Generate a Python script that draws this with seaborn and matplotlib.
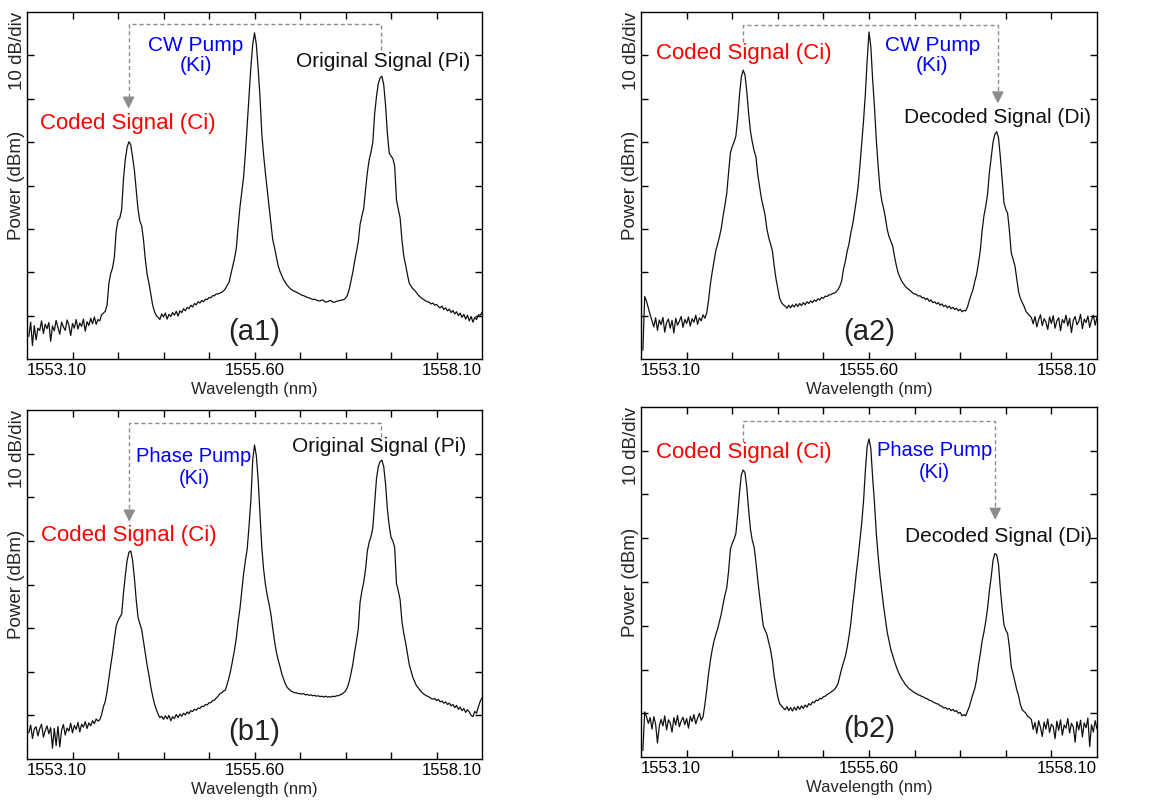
"""
Four OSA spectra (a1, a2, b1, b2): coded / pump / original-or-decoded signals.
"""

import numpy as np
import matplotlib
matplotlib.use("Agg")
import matplotlib.pyplot as plt
import matplotlib.transforms as mtransforms
import seaborn as sns


# ── OSA sampling grid (nm) and traces (dBm) ──
WAVELENGTH = np.round(1552.50 + 0.025 * np.arange(250), 3)

TRACE_A1 = [
    -74.8, -71.5, -76.9, -72.3, -75.6, -72.9, -73.4, -71.2, -74.1, -72.0,
    -73.0, -71.6, -75.9, -72.4, -73.5, -71.1, -72.7, -74.3, -71.5, -72.6,
    -73.4, -71.0, -72.2, -74.6, -71.8, -72.9, -70.9, -73.1, -71.7, -72.5,
    -70.8, -73.6, -71.4, -72.3, -70.6, -71.9, -70.3, -72.0, -70.9, -71.2,
    -69.8, -69.4, -69.0, -67.5, -62.5, -60.3, -59.0, -56.5, -50.5, -48.0,
    -47.5, -45.5, -38.5, -34.0, -31.2, -29.9, -30.6, -33.4, -36.5, -41.0,
    -45.5, -48.2, -49.3, -52.5, -57.0, -60.5, -62.5, -65.0, -67.5, -69.0,
    -70.0, -70.4, -70.9, -69.6, -70.3, -69.4, -70.8, -69.7, -70.2, -69.3,
    -69.9, -69.0, -70.1, -68.9, -69.3, -68.4, -68.9, -68.1, -68.4, -67.6,
    -68.0, -67.2, -67.5, -66.8, -67.1, -66.5, -66.8, -66.2, -66.3, -65.8,
    -65.9, -65.4, -65.4, -65.0, -65.0, -64.8, -64.6, -64.3, -63.8, -63.0,
    -62.3, -60.5, -58.7, -56.8, -54.5, -49.5, -45.0, -41.5, -38.0, -32.5,
    -26.0, -19.5, -12.7, -7.5, -4.8, -7.5, -13.0, -19.5, -28.0, -33.0,
    -37.2, -41.0, -44.9, -48.8, -52.5, -54.3, -56.5, -58.5, -59.8, -60.8,
    -61.7, -62.4, -63.0, -63.5, -63.9, -64.2, -64.4, -64.6, -64.8, -65.0,
    -65.3, -65.4, -65.6, -65.8, -65.9, -66.1, -66.3, -66.2, -66.4, -66.6,
    -66.6, -66.4, -66.5, -66.9, -66.8, -66.6, -66.5, -66.9, -66.9, -66.7,
    -66.6, -66.5, -66.4, -66.3, -66.0, -65.3, -64.0, -62.0, -60.0, -57.5,
    -55.3, -53.0, -49.0, -47.0, -45.3, -41.0, -37.0, -34.1, -32.3, -30.0,
    -23.5, -19.5, -16.5, -15.2, -14.8, -16.8, -21.5, -28.0, -32.5, -33.2,
    -33.8, -35.5, -43.3, -45.5, -47.5, -52.5, -56.3, -58.3, -60.5, -62.5,
    -63.2, -63.8, -64.2, -64.7, -65.3, -65.7, -66.0, -66.3, -66.6, -66.8,
    -66.9, -67.3, -67.1, -67.6, -67.4, -67.9, -68.2, -67.8, -68.6, -68.2,
    -68.9, -68.5, -69.3, -68.8, -69.6, -69.1, -70.0, -69.4, -70.4, -69.7,
    -70.8, -69.9, -71.2, -70.2, -71.5, -70.4, -70.9, -69.8, -69.9, -69.3,
]

TRACE_A2 = [
    -78.0, -65.6, -66.7, -68.3, -69.8, -71.2, -72.6, -70.5, -73.4, -71.0,
    -72.1, -70.4, -73.8, -71.6, -70.8, -72.9, -71.1, -74.0, -70.6, -72.2,
    -71.3, -70.2, -72.7, -70.9, -71.8, -70.3, -72.4, -70.7, -71.5, -69.9,
    -72.0, -70.5, -71.2, -69.8, -70.6, -69.4, -66.5, -62.8, -60.0, -57.5,
    -55.0, -53.5, -51.8, -49.8, -47.0, -44.5, -41.8, -37.0, -32.5, -31.0,
    -30.0, -28.6, -24.5, -19.0, -15.0, -13.4, -14.5, -18.5, -23.4, -27.5,
    -30.0, -32.0, -33.4, -37.5, -40.3, -43.0, -44.9, -46.8, -50.0, -52.0,
    -53.5, -55.0, -58.5, -61.5, -63.7, -66.0, -67.0, -67.5, -67.8, -68.3,
    -67.6, -68.2, -67.5, -68.0, -67.3, -67.9, -67.2, -67.7, -67.0, -67.5,
    -66.8, -67.2, -66.6, -67.0, -66.4, -66.7, -66.1, -66.4, -65.8, -66.0,
    -65.5, -65.6, -65.2, -65.2, -64.9, -64.8, -64.5, -64.0, -63.2, -62.0,
    -59.3, -57.5, -55.2, -53.5, -51.0, -49.0, -46.4, -43.5, -40.3, -35.5,
    -30.3, -25.0, -18.8, -11.0, -4.6, -8.0, -15.7, -22.0, -29.5, -35.5,
    -40.7, -43.5, -45.3, -47.5, -50.2, -51.8, -52.9, -54.0, -56.4, -58.5,
    -60.2, -61.2, -62.1, -62.7, -63.3, -63.7, -64.0, -64.4, -64.8, -65.0,
    -65.1, -65.5, -65.4, -65.9, -65.8, -66.3, -66.0, -66.7, -66.4, -67.0,
    -66.8, -67.3, -67.0, -67.6, -67.3, -67.9, -67.6, -68.2, -67.8, -68.4,
    -68.1, -68.6, -68.3, -68.9, -68.5, -69.1, -68.8, -68.9, -68.0, -66.5,
    -65.2, -64.0, -62.1, -60.5, -57.9, -55.0, -50.5, -47.0, -44.8, -42.0,
    -37.0, -33.5, -30.0, -28.2, -27.6, -29.0, -33.4, -38.5, -44.0, -45.5,
    -46.4, -50.5, -55.6, -57.0, -58.5, -61.5, -64.5, -66.0, -67.0, -67.8,
    -69.0, -69.5, -70.0, -70.4, -71.9, -70.2, -72.6, -71.0, -69.8, -72.3,
    -70.7, -71.5, -73.2, -70.3, -71.8, -70.0, -72.9, -71.2, -70.5, -73.5,
    -70.9, -71.7, -69.9, -72.4, -70.6, -73.9, -71.1, -70.2, -72.1, -71.4,
    -69.7, -73.0, -70.8, -71.6, -70.1, -72.7, -71.0, -69.9, -72.2, -70.4,
]

TRACE_B1 = [
    -74.0, -72.2, -75.3, -73.1, -72.6, -74.7, -73.0, -72.0, -75.0, -73.5,
    -72.4, -74.2, -72.8, -77.5, -73.0, -76.9, -72.5, -77.2, -73.4, -72.1,
    -74.5, -72.9, -73.6, -71.8, -74.0, -72.3, -73.2, -71.6, -73.8, -72.0,
    -72.7, -71.4, -73.0, -71.7, -72.4, -71.2, -71.9, -70.8, -71.3, -71.0,
    -69.8, -68.0, -66.8, -64.5, -61.5, -58.5, -55.8, -52.5, -49.5, -48.3,
    -47.5, -46.8, -42.0, -38.0, -34.5, -32.6, -32.3, -34.4, -38.5, -43.5,
    -47.5, -49.0, -50.3, -53.0, -55.8, -58.5, -60.8, -63.4, -65.5, -67.3,
    -68.6, -69.7, -70.5, -70.2, -70.9, -70.1, -70.8, -70.0, -71.2, -70.3,
    -70.7, -69.8, -70.5, -69.7, -70.2, -69.5, -69.9, -69.2, -69.6, -68.9,
    -69.1, -68.6, -68.8, -68.3, -68.4, -67.9, -68.0, -67.5, -67.6, -67.1,
    -67.1, -66.6, -66.5, -66.0, -65.6, -65.0, -64.8, -64.4, -64.2, -62.8,
    -61.3, -59.5, -57.3, -55.0, -52.3, -48.5, -45.5, -41.5, -37.5, -34.5,
    -31.8, -26.5, -20.7, -11.5, -8.0, -10.5, -16.0, -23.9, -31.5, -36.5,
    -40.0, -42.5, -44.5, -46.8, -50.0, -53.0, -55.5, -57.3, -58.8, -60.5,
    -61.7, -62.8, -63.6, -64.0, -64.4, -64.6, -64.8, -64.8, -65.0, -65.0,
    -65.1, -65.0, -65.3, -65.2, -65.4, -65.3, -65.5, -65.4, -65.6, -65.5,
    -65.7, -65.6, -65.8, -65.6, -65.8, -65.7, -65.8, -65.6, -65.7, -65.5,
    -65.5, -65.3, -65.1, -64.8, -64.4, -63.6, -62.3, -60.4, -58.3, -55.5,
    -53.0, -50.2, -44.0, -41.5, -39.5, -36.5, -32.3, -30.3, -29.0, -27.0,
    -21.5, -15.8, -13.0, -11.8, -11.5, -13.0, -17.0, -22.7, -26.5, -29.2,
    -30.0, -31.5, -39.8, -41.5, -43.5, -48.5, -51.2, -53.3, -55.8, -58.3,
    -59.8, -61.3, -62.3, -63.2, -63.7, -64.3, -64.7, -65.1, -65.4, -65.6,
    -65.8, -66.1, -66.3, -66.1, -66.6, -66.3, -66.9, -66.7, -67.2, -66.9,
    -67.5, -67.2, -67.8, -67.5, -68.2, -67.7, -68.6, -68.1, -68.9, -68.4,
    -69.3, -68.7, -69.2, -70.0, -70.3, -69.1, -69.5, -68.0, -66.8, -66.0,
]

TRACE_B2 = [
    -78.5, -69.7, -70.8, -72.3, -71.0, -73.6, -70.8, -72.5, -76.8, -73.0,
    -71.4, -72.9, -70.6, -73.8, -71.5, -72.2, -74.3, -71.0, -72.7, -70.5,
    -73.1, -71.8, -70.9, -72.6, -71.2, -73.4, -70.7, -71.9, -70.3, -72.4,
    -71.1, -70.0, -71.6, -70.8, -68.0, -64.7, -61.0, -58.0, -55.5, -53.5,
    -52.0, -50.7, -49.0, -47.3, -45.0, -43.0, -41.3, -37.5, -32.5, -31.2,
    -30.2, -28.9, -24.5, -19.5, -15.5, -14.4, -15.0, -18.5, -23.5, -28.0,
    -30.5, -32.0, -35.5, -39.5, -43.2, -46.5, -50.0, -51.0, -52.0, -53.8,
    -55.5, -58.0, -61.5, -64.0, -66.3, -67.8, -68.3, -68.8, -69.2, -68.5,
    -69.4, -68.7, -69.5, -68.6, -69.3, -68.4, -69.1, -68.3, -68.9, -68.1,
    -68.6, -67.8, -68.1, -67.4, -67.6, -67.0, -67.1, -66.6, -66.7, -66.2,
    -66.1, -65.7, -65.5, -65.2, -64.9, -64.6, -64.0, -63.2, -61.5, -59.8,
    -58.4, -57.0, -55.0, -52.5, -49.5, -45.5, -42.0, -38.0, -34.5, -30.5,
    -26.5, -21.5, -14.5, -9.0, -7.3, -9.5, -16.2, -22.0, -28.9, -34.0,
    -38.5, -42.0, -45.6, -48.5, -51.5, -53.5, -55.5, -56.8, -58.2, -59.4,
    -60.5, -61.4, -62.2, -62.8, -63.5, -63.9, -64.4, -64.7, -65.0, -65.3,
    -65.5, -65.8, -65.9, -66.2, -66.3, -66.6, -66.7, -67.0, -67.1, -67.4,
    -67.6, -67.8, -67.9, -68.3, -68.4, -68.8, -68.7, -69.1, -68.9, -69.4,
    -69.1, -69.6, -69.4, -70.0, -69.8, -70.6, -70.3, -70.6, -69.5, -68.5,
    -67.0, -65.6, -64.3, -62.3, -59.0, -56.5, -53.5, -51.5, -49.0, -46.0,
    -42.0, -38.8, -35.0, -33.5, -33.8, -36.0, -41.5, -46.0, -49.8, -51.0,
    -51.8, -55.0, -59.4, -61.0, -62.8, -64.6, -66.0, -68.0, -69.2, -69.6,
    -70.0, -70.7, -71.0, -71.4, -73.7, -72.1, -74.6, -71.7, -73.2, -75.3,
    -72.0, -73.6, -71.3, -74.4, -72.5, -73.0, -75.8, -71.8, -73.9, -71.5,
    -75.0, -72.7, -73.4, -71.2, -74.5, -72.3, -73.1, -76.6, -71.9, -73.8,
    -71.6, -75.4, -72.2, -73.3, -71.1, -77.6, -72.6, -74.3, -71.7, -73.6,
]

X_TICKS = [1553.10, 1553.725, 1554.35, 1554.975, 1555.60,
           1556.225, 1556.85, 1557.475, 1558.10]
X_TICK_LABELS = ["1553.10", "", "", "", "1555.60", "", "", "", "1558.10"]
Y_TICKS = [-70, -60, -50, -40, -30, -20, -10]

PANEL_TAGS = ["(a1)", "(a2)", "(b1)", "(b2)"]

RED = "#ff0000"
BLUE = "#0000ff"
INK = "#111111"
ARROW = "#8c8c8c"

# axes rectangles in figure fractions (left, bottom, width, height)
RECTS = [
    [0.0233, 0.5518, 0.3926, 0.4332],
    [0.5531, 0.5518, 0.3934, 0.4332],
    [0.0233, 0.0524, 0.3926, 0.4357],
    [0.5531, 0.0549, 0.3934, 0.4370],
]

# per panel: labels (text, x, y, colour, size, linespacing)
LABELS = [
    [("Coded Signal (Ci)", 1553.86, -25.7, RED, 16, 1.0),
     ("CW Pump\n(Ki)", 1554.79, -10.0, BLUE, 15, 1.1),
     ("Original Signal (Pi)", 1557.37, -11.5, INK, 15, 1.0)],
    [("Coded Signal (Ci)", 1553.88, -9.6, RED, 16, 1.0),
     ("CW Pump\n(Ki)", 1556.47, -10.0, BLUE, 15, 1.1),
     ("Decoded Signal (Di)", 1557.36, -24.3, INK, 15, 1.0)],
    [("Coded Signal (Ci)", 1553.87, -28.7, RED, 16, 1.0),
     ("Phase Pump\n(Ki)", 1554.77, -13.2, BLUE, 14.5, 1.2),
     ("Original Signal (Pi)", 1557.31, -8.3, INK, 15, 1.0)],
    [("Coded Signal (Ci)", 1553.88, -10.5, RED, 16, 1.0),
     ("Phase Pump\n(Ki)", 1556.50, -12.4, BLUE, 14.5, 1.2),
     ("Decoded Signal (Di)", 1557.37, -29.6, INK, 15, 1.0)],
]

# dashed link: start x, start y, top y, end x, arrow tip y
LINKS = [
    (1557.335, -8.8, -2.7, 1553.87, -22.3),
    (1553.876, -6.9, -3.1, 1557.366, -21.1),
    (1557.34, -6.1, -2.9, 1553.88, -25.6),
    (1553.87, -7.9, -3.3, 1557.33, -25.8),
]


def draw_panel(fig, rect, trace, tag, labels, link):
    ax = fig.add_axes(rect)
    sns.lineplot(x=WAVELENGTH, y=trace, ax=ax, color=INK, lw=0.9,
                 estimator=None, sort=False)

    ax.set_xlim(1552.475, 1558.725)
    ax.set_ylim(-80, 0)
    ax.set_xticks(X_TICKS, X_TICK_LABELS, fontsize=12)
    ax.set_yticks(Y_TICKS, [])
    ax.tick_params(direction="in", length=5, width=1, colors="black",
                   top=True, right=True, left=True, bottom=True, pad=3)
    for s in ax.spines.values():
        s.set_color("black")
        s.set_linewidth(1.0)

    # edge tick labels sit inside the frame, like the OSA printout
    width_in = rect[2] * fig.get_figwidth()
    lbls = ax.get_xticklabels()
    lbls[0].set_horizontalalignment("left")
    lbls[0].set_transform(lbls[0].get_transform() + mtransforms.ScaledTranslation(
        -0.1 * width_in, 0, fig.dpi_scale_trans))
    lbls[-1].set_horizontalalignment("right")
    lbls[-1].set_transform(lbls[-1].get_transform() + mtransforms.ScaledTranslation(
        0.1 * width_in, 0, fig.dpi_scale_trans))

    ax.set_xlabel("Wavelength (nm)", fontsize=12, labelpad=2.5)
    ax.set_ylabel("Power (dBm)", fontsize=13.5)
    ax.yaxis.set_label_coords(-0.004, 0.5)
    ax.annotate("10 dB/div", xy=(0, 1), xycoords="axes fraction",
                xytext=(-7.2, 0), textcoords="offset points",
                rotation=90, ha="center", va="top", fontsize=13.5)

    for text, x, y, col, size, ls in labels:
        ax.text(x, y, text, color=col, fontsize=size, ha="center", va="center",
                multialignment="center", linespacing=ls)

    x0, y0, ytop, x1, tip = link
    ax.plot([x0, x0, x1, x1], [y0, ytop, ytop, tip + 1.8], color=ARROW,
            lw=1.0, ls=(0, (3, 2)))
    ax.annotate("", xy=(x1, tip), xytext=(x1, tip + 2.0),
                arrowprops=dict(arrowstyle="-|>,head_length=0.6,head_width=0.3",
                                color=ARROW, lw=1.0, shrinkA=0, shrinkB=0))

    ax.text(1555.60, -73.7, tag, fontsize=21, color="#222222",
            ha="center", va="center")
    return ax


sns.set_theme(style="white")
plt.rcParams["font.family"] = ["Liberation Sans", "DejaVu Sans"]

fig = plt.figure(figsize=(11.59, 8.01), dpi=100)
traces = [TRACE_A1, TRACE_A2, TRACE_B1, TRACE_B2]
for rect, trace, tag, labels, link in zip(RECTS, traces, PANEL_TAGS, LABELS, LINKS):
    draw_panel(fig, rect, trace, tag, labels, link)

fig.savefig("out.png", dpi=100)
